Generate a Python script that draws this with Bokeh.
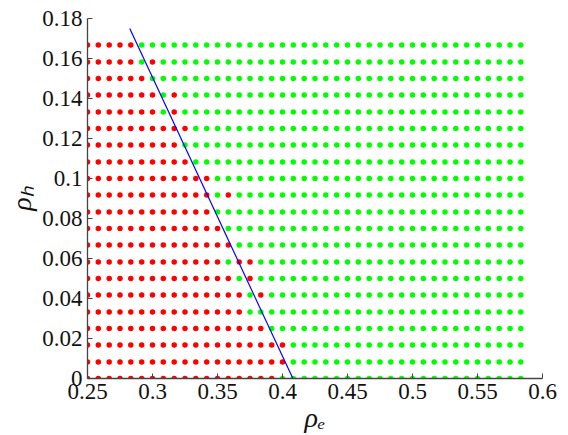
from bokeh.plotting import figure
from bokeh.models import Range1d, FixedTicker
from bokeh.embed import file_html
from bokeh.resources import INLINE

# grid of tested (rho_e, rho_h) values
x_grid = [0.2500, 0.2583, 0.2667, 0.2750, 0.2833, 0.2917, 0.3000, 0.3083, 0.3167, 0.3250,
          0.3333, 0.3417, 0.3500, 0.3583, 0.3667, 0.3750, 0.3833, 0.3917, 0.4000, 0.4083,
          0.4167, 0.4250, 0.4333, 0.4417, 0.4500, 0.4583, 0.4667, 0.4750, 0.4833, 0.4917,
          0.5000, 0.5083, 0.5167, 0.5250, 0.5333, 0.5417, 0.5500, 0.5583, 0.5667, 0.5750,
          0.5833]
y_grid = [0.0000, 0.0083, 0.0167, 0.0250, 0.0333, 0.0417, 0.0500, 0.0583, 0.0667, 0.0750,
          0.0833, 0.0917, 0.1000, 0.1083, 0.1167, 0.1250, 0.1333, 0.1417, 0.1500, 0.1583,
          0.1667]
# number of leading red points in each row (row 0 = bottom)
red_run = [18, 19, 19, 17, 15, 15, 14, 13, 14, 13, 12, 12, 12, 10, 9, 10, 7, 7, 6, 5, 5]
# isolated red points (row index, column index)
extra_red = [(5, 16), (6, 15), (7, 14), (7, 15), (11, 13), (16, 8), (17, 8), (19, 6)]

# boundary line
line_x = [0.2825, 0.408]
line_y = [0.175, 0.0]

x_ticks = [0.25, 0.3, 0.35, 0.4, 0.45, 0.5, 0.55, 0.6]
x_labels = ["0.25", "0.3", "0.35", "0.4", "0.45", "0.5", "0.55", "0.6"]
y_ticks = [0, 0.02, 0.04, 0.06, 0.08, 0.1, 0.12, 0.14, 0.16, 0.18]
y_labels = ["0", "0.02", "0.04", "0.06", "0.08", "0.1", "0.12", "0.14", "0.16", "0.18"]

red_x, red_y, green_x, green_y = [], [], [], []
extra = set(extra_red)
for j, yv in enumerate(y_grid):
    for k, xv in enumerate(x_grid):
        if k < red_run[j] or (j, k) in extra:
            red_x.append(xv); red_y.append(yv)
        else:
            green_x.append(xv); green_y.append(yv)

SERIF = "Liberation Serif"

p = figure(width=568, height=435, x_range=Range1d(0.25, 0.6), y_range=Range1d(0, 0.18),
           output_backend="svg", toolbar_location=None,
           min_border_left=87, min_border_right=26, min_border_top=18, min_border_bottom=57)
p.outline_line_color = None
p.grid.visible = False
p.background_fill_color = "white"
p.border_fill_color = "white"

p.scatter(red_x, red_y, marker="circle", size=5.5, fill_color="#ff0000", line_color=None)
p.scatter(green_x, green_y, marker="circle", size=5.5, fill_color="#00ff00", line_color=None)
p.line(line_x, line_y, line_color="#0000ff", line_width=1.2)

p.xaxis.ticker = FixedTicker(ticks=x_ticks)
p.xaxis.major_label_overrides = dict(zip(x_ticks, x_labels))
p.yaxis.ticker = FixedTicker(ticks=y_ticks)
p.yaxis.major_label_overrides = dict(zip(y_ticks, y_labels))
p.axis.minor_tick_line_color = None
p.axis.major_tick_in = 5
p.axis.major_tick_out = 0
p.axis.axis_line_color = "#444444"
p.axis.major_tick_line_color = "#444444"
p.axis.axis_line_width = 1.3
p.axis.major_label_text_font = SERIF
p.axis.major_label_text_font_size = "23px"
p.axis.major_label_text_color = "#111111"
p.axis.axis_label_text_font = SERIF
p.axis.axis_label_text_font_style = "italic"
p.axis.axis_label_text_font_size = "28px"
p.axis.axis_label_text_color = "#111111"
p.xaxis.major_label_standoff = 5
p.yaxis.major_label_standoff = 5
p.xaxis.axis_label = "ρₑ"
p.yaxis.axis_label = "ρₕ"
p.xaxis.axis_label_standoff = 0
p.yaxis.axis_label_standoff = 2

open("out.html", "w").write(file_html(p, INLINE))
